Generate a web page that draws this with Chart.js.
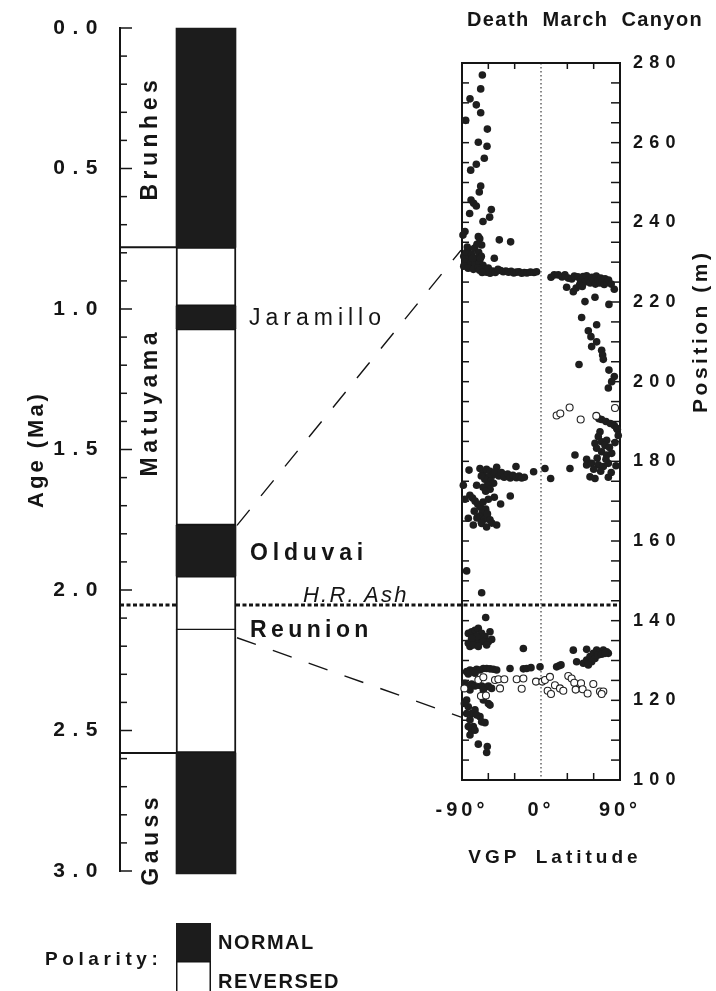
<!DOCTYPE html>
<html><head><meta charset="utf-8">
<script src="https://cdn.jsdelivr.net/npm/chart.js@4.4.1/dist/chart.umd.min.js"></script>
<style>
html,body{margin:0;padding:0;background:#fff;}
#wrap{position:relative;width:716px;height:991px;overflow:hidden;background:#fff;}
#wrap canvas{position:absolute;left:0;top:0;}
</style></head><body>
<div id="wrap"><canvas id="ageCv" width="716" height="991"></canvas><canvas id="vgpCv" width="716" height="991"></canvas></div>
<script>
// ---------------- data ----------------
const chronNames  = ['Brunhes', 'Matuyama a', 'Jaramillo', 'Matuyama b', 'Olduvai', 'Matuyama c', 'Matuyama d', 'Gauss'];
const chronStart  = [0.00, 0.78, 0.99, 1.07, 1.77, 1.95, 2.14, 2.58];
const chronEnd    = [0.78, 0.99, 1.07, 1.77, 1.95, 2.14, 2.58, 3.01];
const chronNormal = [true, false, true, false, true, false, false, true];
const chronBoundaries = [0.78, 2.58];
const ashAge = 2.053;
const tieAges = [1.77, 2.17];
const tiePositions = [233, 115.8];

const upperLat = [-66.8,-68.7,-80.9,-73.7,-68.7,-85.8,-61.1,-71.4,-61.5,-64.6,-73.7,-80.1,-68.7,-70.3,-79.7,-76.7,-73.7,-56.6,-58.5,-81.3,-66.1,-86.6,-88.9,-71.4,-69.8,-47.5,-34.6,-67.6,-83.5,-53.2,
  -88,-85,-82,-79,-76,-74,-71,-68,-86,-80,-75,-70,-66,-88,-83,-77,-72,-78,-84,-73,-69,
  -65,-62,-60,-58,-55,-52,-49,-46,-43,-40,-37,-34,-31,-28,-25,-22,-19,-16,-12,-8,-5,-70,-67,
  11.4,15,19.7,24,27.3,31,35,38,42,45,48,50,52,54,56,58,60,62,63,65,67,68,70,72,73,75,77,80,83.5,29.2,36.8,40,44,47,
  50.1,61.5,77.4,46.3,63.4,53.9,56.9,63.4,57.7,69.1,70.2,71.0,43.3,77.4,83.5,80.5,76.7];
const upperPos = [277.0,273.5,271.0,269.5,267.5,265.6,263.4,260.1,259.1,256.1,254.6,253.1,249.1,247.6,245.6,244.8,244.1,243.2,241.3,242.2,240.2,237.7,236.8,236.4,235.9,235.6,235.1,234.3,233.0,231.0,
  231.5,232.5,231,232,233.5,231,232.5,231.5,230,229.8,229.5,230,229.2,229,228.5,228.2,228.6,231,233.8,234.5,231,
  228.2,227.5,228.5,227.2,227.8,227.4,228.2,227.9,227.6,227.8,227.5,227.7,227.3,227.5,227.6,227.2,227.4,227.3,227.5,227.4,227.6,228.0,227.4,
  226.2,226.8,226.8,226.3,226.8,226.0,225.8,226.5,226.3,225.5,226.4,225.0,226.6,225.6,224.8,226.2,225.3,224.5,226.5,225.6,224.8,226.0,225.2,224.4,225.8,224.9,225.5,224.5,223.2,223.7,222.6,223.5,224.3,223.9,
  220.1,221.2,219.4,216.1,214.3,212.8,211.3,210.0,208.8,207.9,206.7,205.6,204.3,202.9,201.3,200.0,198.4];

const middleLat = [69,74,79,83.5,87,66,86.2,67.2,65.3,61.5,69.1,74.8,84.3,63.4,69.1,74.8,80.5,38.7,52,72.9,52,57.7,65.3,71,76.7,85.4,55.8,61.5,76.7,33,60,68,74,80,64,88,78,
  4.5,11,-8.4,
  -82,-69.5,-50.5,-28.5,-66,-62,-58,-55,-52,-60,-64,-57,-54,-61,-66,-58,-63,-48,-45,-42,-38,-35,-32,-28,-25,-22,-19,-68,-88.5,-73.3,-86.6,-53.2,-46,-35,
  -81,-78,-75,-72,-69,-66,-63,-67,-70,-64,-61,-68,-73,-82.8,-77.1,-67.6,-58.1,-50.5,-62,-56,-60,-76,
  -84.7];
const middlePos = [190.5,190.0,189.5,189.0,188.0,190.7,188.3,187.4,186.2,184.5,184.9,185.3,184.7,183.3,182.4,181.6,182.0,181.6,180.5,184.0,179.1,179.5,179.1,178.7,179.5,178.9,176.1,175.7,176.0,178.2,178.0,177.5,180.5,177.2,180.8,186.5,183.5,
  178.2,175.7,177.4,
  177.8,178.2,178.5,178.7,177,178,177.5,176.5,177.3,176,175.5,175,174.5,174,173.5,173,172.5,176.3,177.2,176,176.8,175.8,176.5,175.9,176.3,175.8,176.0,176.3,174.0,174.0,170.5,171,169.3,171.3,
  171.5,170.8,170,169.2,168.5,169.8,168,167,166.2,165.5,166.8,164.8,165.8,165.7,164,164.4,165.3,164,163.5,164.5,170.5,167.5,
  152.5];

const lowerLat = [-67.6,-63,
  -82.8,-79,-75.2,-71.4,-67.6,-63.8,-58.1,-56.2,-60,-69.5,-75.2,-80.9,-82.8,-77.1,-73.3,-65.7,-61.9,-71.4,-79,
  -20.1,
  36.8,52,40.6,48.2,52,55.8,59.6,63.4,67.2,71,74.8,76.7,61.5,57.7,53.9,65.3,69.1,72.9,
  -84.7,-80.9,-77.1,-73.3,-69.5,-65.7,-61.9,-58.1,-54.3,-50.5,-82.8,-75.2,-35.3,-20.1,-16.3,-11.4,-1.1,17.8,20.5,22.8,
  -86.6,-82.8,-79,-75.2,-71.4,-67.6,-63.8,-60,-56.2,-80.9,-65.7,
  -84.7,-82.8,-79,-80.9,-75.2,-69.5,-67.6,-63.8,-60,-58.1,-79,-80.9,-77.1,-84.7,-73.3,-82.8,-65.7,-87.3,-75.2,
  -71.4,-61.2,-61.9];
const lowerPos = [147.0,140.8,
  136.8,137.2,137.6,138.1,136.8,136,137.2,135.3,134.7,135.1,134.7,133.5,134.3,133.9,136,134.7,133.9,133.5,135.6,
  133.0,
  132.6,132.8,129.7,129.3,130.1,131,131.8,132.6,132.2,132.6,132.2,131.8,130.5,129.7,128.9,131.4,131.6,131.8,
  127.2,127.6,127.4,127.8,127.6,128,128,127.9,127.8,127.6,126.6,126.8,128,127.9,128,128.2,128.4,128.4,128.7,128.9,
  124.3,123.8,124.1,123.6,123.8,123.6,123.3,123.6,123,122.6,122.6,
  120.1,118.4,116.7,115.1,117.6,115.9,114.6,114.4,119.2,118.8,112.5,111.3,113.4,116.7,116.3,113.4,120.1,119.2,112.5,
  109.0,108.4,106.9];

const openLat = [17.8,22.0,32.6,45.2,63.0,84.3,
  -87.3,-71.4,-65.7,-52.4,-48.6,-41.8,-46.7,-27.7,-20.1,-22,-5.7,1.5,4.5,10.2,7.6,11.4,15.9,21.6,25.4,31.1,34.9,37.9,39.5,45.6,47.4,53.1,59.6,67.2,71,69.1,-68.4,-62.7];
const openPos = [191.5,192.0,193.5,190.5,191.4,193.4,
  123,125.1,125.8,125.1,125.3,125.3,123,125.3,125.5,122.9,124.7,124.7,125.1,125.9,122.4,121.6,123.8,123,122.4,126.1,125.5,124.4,122.7,124.3,122.8,121.7,124.1,122.2,122.2,121.6,121.1,121.2];

// ---------------- helpers ----------------
const FONT = '"Liberation Sans", Arial, Helvetica, sans-serif';
const INK = '#151515';
Chart.defaults.font.family = FONT;
Chart.defaults.color = INK;

function xy(lat, pos) { return lat.map((v, i) => ({ x: v, y: pos[i] })); }

function spacedLabels(scale, px) {
  if (scale.$spaced) return;
  scale.$spaced = true;
  const orig = scale.drawLabels;
  scale.drawLabels = function (area) {
    const c = this.ctx; c.save(); c.letterSpacing = px + 'px'; orig.call(this, area); c.restore();
  };
}

function text(ctx, str, x, y, o) {
  ctx.save();
  ctx.font = (o.style || 'normal') + ' ' + (o.weight || 'bold') + ' ' + o.size + 'px ' + FONT;
  ctx.letterSpacing = (o.spacing || 0) + 'px';
  if (o.wordSpacing) ctx.wordSpacing = o.wordSpacing + 'px';
  ctx.fillStyle = INK;
  ctx.textAlign = o.align || 'left';
  ctx.textBaseline = o.baseline || 'alphabetic';
  ctx.translate(x, y);
  if (o.rotate) ctx.rotate(o.rotate);
  ctx.fillText(str, o.align === 'center' ? (o.spacing || 0) / 2 : 0, 0);
  ctx.restore();
}

function line(ctx, x1, y1, x2, y2, w, dash) {
  ctx.save();
  ctx.strokeStyle = INK; ctx.lineWidth = w; ctx.setLineDash(dash || []);
  ctx.beginPath(); ctx.moveTo(x1, y1); ctx.lineTo(x2, y2); ctx.stroke();
  ctx.restore();
}

// ---------------- left: polarity column ----------------
const agePlugin = {
  id: 'ageDecor',
  beforeDatasetsDraw(chart) {
    const ctx = chart.ctx, y = chart.scales.y, a = chart.chartArea;
    const bar = chart.getDatasetMeta(0).data[0];
    const colL = bar.x - bar.width / 2;
    chronBoundaries.forEach(v => line(ctx, a.left, y.getPixelForValue(v), colL, y.getPixelForValue(v), 2));
    line(ctx, a.left, y.getPixelForValue(ashAge), colL, y.getPixelForValue(ashAge), 3, [4, 2.5]);
  },
  afterDraw(chart) {
    const ctx = chart.ctx, y = chart.scales.y, a = chart.chartArea;
    const bar = chart.getDatasetMeta(0).data[0];
    const colL = bar.x - bar.width / 2, colR = bar.x + bar.width / 2;
    for (let i = 0; i <= 30; i++) {
      const py = y.getPixelForValue(i / 10);
      line(ctx, a.left - 1, py, a.left + (i % 5 === 0 ? 12 : 7), py, 1.5);
    }
    const midX = (a.left + colL) / 2 + 9;
    const R = -Math.PI / 2;
    text(ctx, 'Brunhes', midX, y.getPixelForValue(0.40), { size: 23, spacing: 4.5, align: 'center', rotate: R });
    text(ctx, 'Matuyama', midX, y.getPixelForValue(1.34), { size: 23, spacing: 4.5, align: 'center', rotate: R });
    text(ctx, 'Gauss', midX + 1, y.getPixelForValue(2.895), { size: 23, spacing: 4.5, align: 'center', rotate: R });
    const lx = colR + 13;
    text(ctx, 'Jaramillo', lx, y.getPixelForValue(1.03) + 8, { size: 23, weight: 'normal', spacing: 5 });
    text(ctx, 'Olduvai', lx + 1, y.getPixelForValue(1.86) + 9.5, { size: 23, spacing: 4.8 });
    text(ctx, 'H.R. Ash', 303, y.getPixelForValue(ashAge) - 3, { size: 22, weight: 'normal', style: 'italic', spacing: 2.2 });
    text(ctx, 'Reunion', lx + 1, y.getPixelForValue(2.14) + 8, { size: 23, spacing: 4.4 });
    text(ctx, 'Age (Ma)', 43, 451, { size: 22, spacing: 3, align: 'center', rotate: R });
    // legend
    text(ctx, 'Polarity:', 45, 965, { size: 19, spacing: 4.6 });
    ctx.save();
    ctx.fillStyle = '#1c1c1c'; ctx.fillRect(colL, 923, 35, 38);
    ctx.fillStyle = '#fff'; ctx.strokeStyle = INK; ctx.lineWidth = 1.5;
    ctx.fillRect(colL, 961, 35, 36); ctx.strokeRect(colL + 0.75, 961.75, 33.5, 36);
    ctx.restore();
    text(ctx, 'NORMAL', colL + 42, 949, { size: 20, spacing: 1.5 });
    text(ctx, 'REVERSED', colL + 42, 988, { size: 20, spacing: 1.5 });
  }
};

const ageChart = new Chart(document.getElementById('ageCv'), {
  type: 'bar',
  data: {
    labels: ['polarity'],
    datasets: chronStart.map((s, i) => ({
      label: chronNames[i],
      data: [[s, chronEnd[i]]],
      backgroundColor: chronNormal[i] ? '#1c1c1c' : '#ffffff',
      borderColor: INK,
      borderWidth: chronNormal[i] ? 0 : {
        left: 2, right: 2,
        top: (i > 0 && !chronNormal[i - 1]) ? 1 : 2,
        bottom: (i < chronStart.length - 1 && !chronNormal[i + 1]) ? 1 : 2
      },
      borderSkipped: false,
      barThickness: 60,
      grouped: false,
      clip: false
    }))
  },
  options: {
    responsive: false, animation: false, devicePixelRatio: 1, events: [],
    layout: { padding: { left: 0, right: 424, top: 28, bottom: 120 } },
    plugins: { legend: { display: false }, tooltip: { enabled: false } },
    scales: {
      x: { display: false },
      y: {
        type: 'linear', min: 0, max: 3, reverse: true, position: 'left',
        grid: { display: false },
        border: { display: true, color: INK, width: 2 },
        ticks: { stepSize: 0.5, padding: 7, color: INK, font: { size: 21, weight: 'bold' }, callback: v => Number(v).toFixed(1) },
        afterFit(s) { s.width = 120; spacedLabels(s, 7.5); }
      }
    }
  },
  plugins: [agePlugin]
});

// ---------------- right: VGP latitude ----------------
const vgpPlugin = {
  id: 'vgpDecor',
  beforeDatasetsDraw(chart) {
    const ctx = chart.ctx, a = chart.chartArea, xs = chart.scales.x, ys = chart.scales.y;
    const ay = ageChart.scales.y;
    const bar = ageChart.getDatasetMeta(0).data[0];
    const colR = bar.x + bar.width / 2;
    line(ctx, xs.getPixelForValue(0), a.top, xs.getPixelForValue(0), a.bottom, 1, [1.5, 2.5]);
    line(ctx, colR, ay.getPixelForValue(ashAge), a.right, ay.getPixelForValue(ashAge), 3, [4, 2.5]);
    ctx.save(); ctx.strokeStyle = INK; ctx.lineWidth = 2;
    ctx.strokeRect(a.left, a.top, a.right - a.left, a.bottom - a.top); ctx.restore();
    for (let p = 100; p <= 280; p += 5) {
      const py = ys.getPixelForValue(p);
      line(ctx, a.left, py, a.left + 7, py, 1.5);
      line(ctx, a.right - 9, py, a.right, py, 1.5);
    }
    [-60, -30, 30, 60].forEach(v => {
      const px = xs.getPixelForValue(v);
      line(ctx, px, a.top, px, a.top + 6, 1.5);
      line(ctx, px, a.bottom - 7, px, a.bottom, 1.5);
    });
  },
  afterDraw(chart) {
    const ctx = chart.ctx, a = chart.chartArea, ys = chart.scales.y;
    const ay = ageChart.scales.y;
    const bar = ageChart.getDatasetMeta(0).data[0];
    const colR = bar.x + bar.width / 2;
    tieAges.forEach((age, i) => {
      line(ctx, colR + 1, ay.getPixelForValue(age), a.left - 1, ys.getPixelForValue(tiePositions[i]), 1.4, [20, 18]);
    });
    text(ctx, 'Death March Canyon', 467, 26, { size: 20, spacing: 1.4, wordSpacing: 6 });
    text(ctx, 'Position (m)', 707, 333, { size: 21, spacing: 3.5, align: 'center', rotate: -Math.PI / 2 });
    text(ctx, 'VGP Latitude', 553, 863, { size: 19, spacing: 4, align: 'center', wordSpacing: 6 });
  }
};

const filled = { pointRadius: 3.8, pointBackgroundColor: '#1e1e1e', pointBorderColor: '#1e1e1e', pointBorderWidth: 0, showLine: false, clip: false, order: 2 };

const vgpChart = new Chart(document.getElementById('vgpCv'), {
  type: 'scatter',
  data: {
    datasets: [
      { label: 'open', data: xy(openLat, openPos), pointRadius: 3.5, pointBackgroundColor: '#fff', pointBorderColor: '#222', pointBorderWidth: 1.1, showLine: false, clip: false, order: 1 },
      Object.assign({ label: 'upper', data: xy(upperLat, upperPos) }, filled),
      Object.assign({ label: 'middle', data: xy(middleLat, middlePos) }, filled),
      Object.assign({ label: 'lower', data: xy(lowerLat, lowerPos) }, filled)
    ]
  },
  options: {
    responsive: false, animation: false, devicePixelRatio: 1, events: [],
    layout: { padding: { left: 462, right: 0, top: 63, bottom: 161 } },
    plugins: { legend: { display: false }, tooltip: { enabled: false } },
    scales: {
      x: {
        type: 'linear', min: -90, max: 90, position: 'bottom',
        grid: { display: false }, border: { display: false },
        ticks: { stepSize: 90, padding: 10, color: INK, font: { size: 20, weight: 'bold' }, callback: v => v + '°' },
        afterFit(s) { s.height = 50; spacedLabels(s, 4); }
      },
      y: {
        type: 'linear', min: 100, max: 280, position: 'right',
        grid: { display: false }, border: { display: false },
        ticks: { stepSize: 20, padding: 5, color: INK, font: { size: 18, weight: 'bold' } },
        afterFit(s) { s.width = 96; spacedLabels(s, 6.2); }
      }
    }
  },
  plugins: [vgpPlugin]
});
</script>
</body></html>
